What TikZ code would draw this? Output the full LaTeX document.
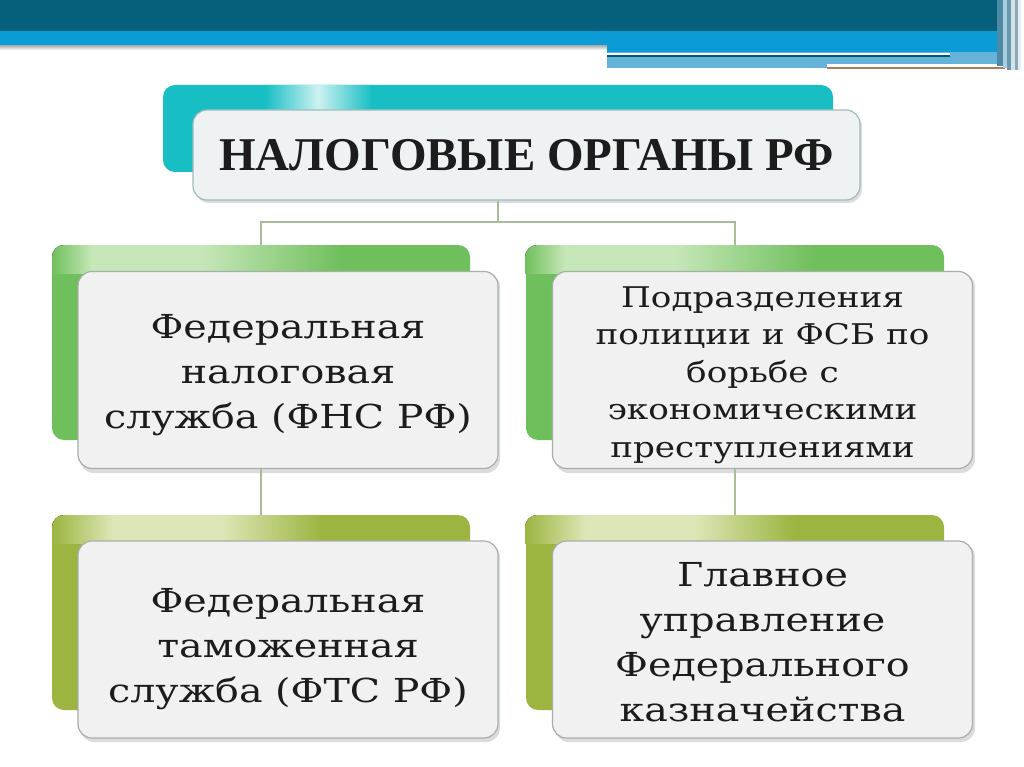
\documentclass[tikz,border=0pt]{standalone}
\usepackage{fontspec}
\setmainfont{DejaVu Serif}
\newfontfamily\bodyf{DejaVu Serif}[FakeStretch=1.2]
\newfontfamily\titlefont{Liberation Serif}[BoldFont={Liberation Serif Bold}]
\definecolor{darkband}{HTML}{07607B}
\definecolor{blueband}{HTML}{0B9BD5}
\definecolor{lightband}{HTML}{66B3D9}
\definecolor{edgeA}{HTML}{4C8AA5}
\definecolor{edgeB}{HTML}{A8CFE0}
\definecolor{edgeC}{HTML}{6B98AA}
\definecolor{edgeD}{HTML}{D3E5EC}
\definecolor{edgeE}{HTML}{8AA8B5}
\definecolor{edgeF}{HTML}{E4EEF2}
\definecolor{tealc}{HTML}{17BEC3}
\definecolor{tealhi}{HTML}{CDF2F2}
\definecolor{greenc}{HTML}{6FBF5C}
\definecolor{greenhi}{HTML}{C6E7B8}
\definecolor{olivec}{HTML}{9BB540}
\definecolor{olivehi}{HTML}{DCE6B6}
\definecolor{frontfill}{HTML}{F0F1F0}
\definecolor{titlefill}{HTML}{EEF2F3}
\definecolor{frontline}{HTML}{A7B0A8}
\definecolor{titleline}{HTML}{9FBCBF}
\definecolor{connc}{HTML}{A9BC98}
\definecolor{txt}{HTML}{1C1C1C}
\tikzset{
  backbox/.style={rounded corners=12pt, minimum width=418pt, minimum height=195pt, inner sep=0pt},
  frontbox/.style={rounded corners=14pt, minimum width=420pt, minimum height=197pt, inner sep=0pt,
     fill=frontfill, draw=frontline, line width=1.2pt, text=txt, align=center},
  bodyfont/.style={font=\bodyf\fontsize{33}{45}\selectfont},
  smallfont/.style={font=\bodyf\fontsize{28.5}{37.5}\selectfont},
  conn/.style={draw=connc, line width=1.3pt},
  shadowbox/.style={rounded corners=14pt, fill=black!30, opacity=0.45}
}
\begin{document}
\begin{tikzpicture}[x=1pt,y=-1pt]
\useasboundingbox (0,0) rectangle (1024,767);
\fill[white] (0,0) rectangle (1024,767);
% ---- top banner ----
\fill[top color=black!35, bottom color=white] (0,45) rectangle (607,50);
\fill[darkband] (0,0) rectangle (997,31);
\fill[blueband] (0,31) rectangle (1000,45);
\fill[blueband] (607,45) rectangle (1000,52);
\fill[lightband] (607,52) rectangle (1003,68);
\fill[white] (607,53) rectangle (950,55.5);
\fill[black!45!blueband] (607,55.5) rectangle (950,57.5);
\fill[white] (827,64.5) rectangle (1005,67.5);
\fill[brown!60!gray] (827,67.5) rectangle (1005,69);
\fill[edgeA] (997,0) rectangle (1003,66);
\fill[edgeB] (1003,0) rectangle (1007,68);
\fill[edgeC] (1007,0) rectangle (1011,70);
\fill[edgeD] (1011,0) rectangle (1015,70);
\fill[edgeE] (1015,0) rectangle (1018,70);
\fill[edgeF] (1018,0) rectangle (1021,70);

% ---- title ----
\node[backbox, fill=tealc, minimum width=670pt, minimum height=87pt] (tb) at (498,128.5) {};
\begin{scope}
  \clip[rounded corners=12pt] (163,85) rectangle (833,172);
  \fill[left color=tealc, right color=tealhi] (265,85) rectangle (318,172);
  \fill[left color=tealhi, right color=tealc] (318,85) rectangle (372,172);
\end{scope}
\fill[shadowbox] (195,113) rectangle (862,203);
\node[frontbox, draw=titleline, fill=titlefill, minimum width=667pt, minimum height=90pt] (title) at (526.5,155)
  {\titlefont\bfseries\fontsize{47}{50}\selectfont НАЛОГОВЫЕ ОРГАНЫ РФ};

% ---- row 1 back boxes ----
\node[backbox, fill=greenc] (bk1) at (261,342.5) {};
\node[backbox, fill=greenc] (bk2) at (735,342.5) {};
\foreach \xo in {52,525}{
  \begin{scope}
    \clip[rounded corners=12pt] (\xo,245) rectangle (\xo+418,440);
    \fill[left color=greenc, right color=greenhi] (\xo,245) rectangle (\xo+40,273);
    \fill[greenhi] (\xo+40,245) rectangle (\xo+150,273);
    \fill[left color=greenhi, right color=greenc] (\xo+150,245) rectangle (\xo+290,273);
  \end{scope}
}
% ---- row 2 back boxes ----
\node[backbox, fill=olivec] (bk3) at (261,612.5) {};
\node[backbox, fill=olivec] (bk4) at (735,612.5) {};
\foreach \xo in {52,525}{
  \begin{scope}
    \clip[rounded corners=12pt] (\xo,515) rectangle (\xo+418,710);
    \fill[left color=olivec, right color=olivehi] (\xo,515) rectangle (\xo+60,543);
    \fill[olivehi] (\xo+60,515) rectangle (\xo+170,543);
    \fill[left color=olivehi, right color=olivec] (\xo+170,515) rectangle (\xo+270,543);
  \end{scope}
}

% ---- connectors ----
\coordinate (j) at (498,222);
\draw[conn] (tb.south |- title.south) -- (j);
\draw[conn] (bk1.north) |- (j) -| (bk2.north);

% ---- front boxes ----
\fill[shadowbox] (80,273) rectangle (500,473);
\fill[shadowbox] (555,273) rectangle (975,473);
\fill[shadowbox] (80,543) rectangle (500,742);
\fill[shadowbox] (555,543) rectangle (975,742);

\node[frontbox] (f1) at (288,370) {};
\node[frontbox] (f2) at (762.5,370) {};
\node[frontbox] (f3) at (288,639.5) {};
\node[frontbox] (f4) at (762.5,639.5) {};
\node[bodyfont, text=txt, align=center] (t1) at ([yshift=-5pt]f1.center)
  {Федеральная\\налоговая\\служба (ФНС РФ)};
\node[smallfont, text=txt, align=center] (t2) at ([yshift=-5pt]f2.center)
  {Подразделения\\полиции и ФСБ по\\борьбе с\\экономическими\\преступлениями};
\node[bodyfont, text=txt, align=center] (t3) at ([yshift=-10pt]f3.center)
  {Федеральная\\таможенная\\служба (ФТС РФ)};
\node[bodyfont, text=txt, align=center] (t4) at ([yshift=-3pt]f4.center)
  {Главное\\управление\\Федерального\\казначейства};

\draw[conn] (bk1.south |- f1.south) -- (bk3.north);
\draw[conn] (bk2.south |- f2.south) -- (bk4.north);
\end{tikzpicture}
\end{document}
